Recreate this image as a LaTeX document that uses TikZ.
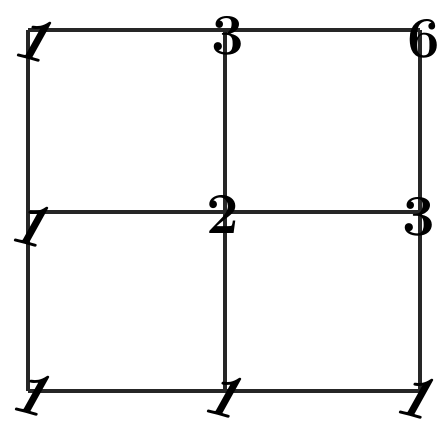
\documentclass[tikz,border=0pt]{standalone}
\usepackage{tikz}
\usetikzlibrary{positioning}

\begin{document}
\begin{tikzpicture}[x=0.02cm,y=-0.02cm,
  grid/.style={line width=1.8pt,black!85},
  num/.style={font=\fontsize{33}{35}\selectfont\bfseries,inner sep=0pt},
  one/.style={font=\fontsize{36}{38}\selectfont\bfseries\itshape,inner sep=0pt,rotate=-15}]
  \useasboundingbox (0,0) rectangle (442,431);
  % ---- lattice points
  \coordinate (a1) at (28,30);  \coordinate (a2) at (225,30);  \coordinate (a3) at (420,30);
  \coordinate (b1) at (28,212); \coordinate (b2) at (225,212); \coordinate (b3) at (420,212);
  \coordinate (c1) at (28,391); \coordinate (c2) at (225,391); \coordinate (c3) at (420,391);
  % ---- grid lines
  \foreach \r in {a,b,c} \draw[grid] (\r1) -- (\r3);
  \foreach \c in {1,2,3} \draw[grid] (a\c) -- (c\c);
  % ---- path counts
  \node[one] (na1) at (33,39)   {1};
  \node[num] (na2) at (228,36)  {3};
  \node[num] (na3) at (424,39)  {6};
  \node[one] (nb1) at (30,224)  {1};
  \node[num] (nb2) at (223,214) {2};
  \node[num] (nb3) at (419,217) {3};
  \node[one] (nc1) at (31,393)  {1};
  \node[one] (nc2) at (223,395) {1};
  \node[one] (nc3) at (415,396) {1};
\end{tikzpicture}
\end{document}
